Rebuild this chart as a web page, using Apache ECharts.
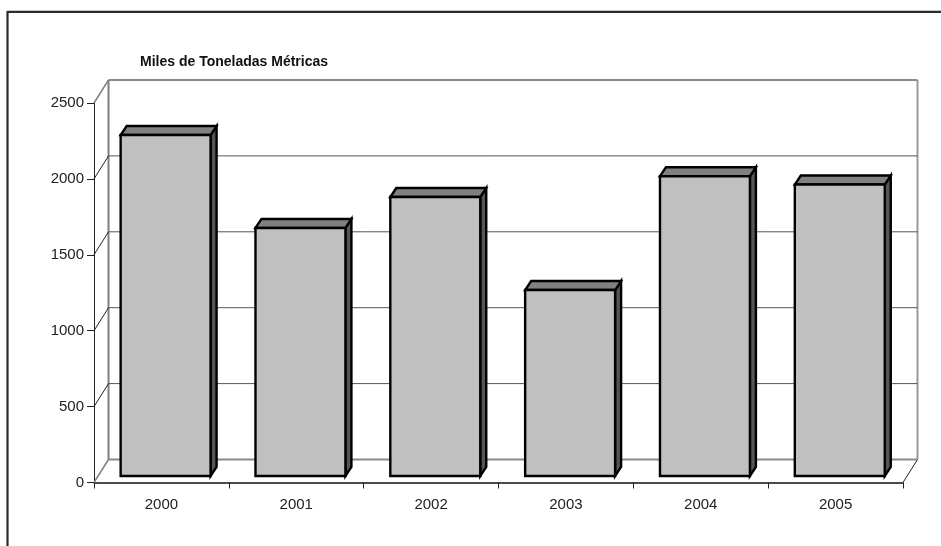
<!DOCTYPE html>
<html>
<head>
<meta charset="utf-8">
<style>html,body{margin:0;padding:0;background:#fff}#c{width:941px;height:546px}</style>
<script src="https://cdn.jsdelivr.net/npm/echarts@6/dist/echarts.min.js"></script>
</head>
<body>
<div id="c"></div>
<script>
const categories = ['2000','2001','2002','2003','2004','2005'];
const values = [2246, 1634, 1838, 1225, 1975, 1920];
const yTicks = [0, 500, 1000, 1500, 2000, 2500];
const chartTitle = 'Miles de Toneladas Métricas';

const chart = echarts.init(document.getElementById('c'), null, {renderer:'canvas'});
const DX = 14.5, DY = -23;      // wall depth
const BDX = 6, BDY = -9;        // bar depth
const BSHIFT = 4.2, BLIFT = -6.5; // bar position inside the floor

function wallItem(params, api) {
  const v = api.value(0);
  const a = api.coord([0, v]);
  const start = [94, a[1]];
  const end = [903, a[1]];
  const edge = v === 0 || v === 2500;
  const col = edge ? '#8a8a8a' : '#555';
  const w = edge ? 2 : 1;
  const kids = [
    {type:'line', shape:{x1:start[0]+DX, y1:start[1]+DY, x2:end[0]+DX, y2:end[1]+DY}, style:{stroke:col, lineWidth:w}},
    {type:'line', shape:{x1:start[0], y1:start[1], x2:start[0]+DX, y2:start[1]+DY}, style:{stroke:edge?'#808080':'#222', lineWidth:edge?1.5:1}}
  ];
  if (v === 0) {
    kids.push({type:'line', shape:{x1:end[0], y1:end[1], x2:end[0]+DX, y2:end[1]+DY}, style:{stroke:'#222', lineWidth:1}});
    const t = api.coord([0, 2500])[1];
    kids.push({type:'line', shape:{x1:start[0]+DX, y1:t+DY, x2:start[0]+DX, y2:start[1]+DY}, style:{stroke:'#808080', lineWidth:2}});
    kids.push({type:'line', shape:{x1:end[0]+DX, y1:t+DY, x2:end[0]+DX, y2:start[1]+DY}, style:{stroke:'#999', lineWidth:2}});
  }
  return {type:'group', children:kids};
}

function barItem(params, api) {
  const idx = api.value(0);
  const val = api.value(1);
  const top = api.coord([idx, val]);
  const base = api.coord([idx, 0]);
  const w = api.size([1, 0])[0] * 0.667;
  const x0 = top[0] - w/2 + BSHIFT, x1 = x0 + w;
  const yT = top[1] + BLIFT, yB = base[1] + BLIFT;
  const line = {stroke:'#000', lineWidth:2.4, lineJoin:'miter'};
  return {type:'group', children:[
    {type:'polygon', shape:{points:[[x1,yT],[x1+BDX,yT+BDY],[x1+BDX,yB+BDY],[x1,yB]]}, style:Object.assign({fill:'#555'}, line)},
    {type:'polygon', shape:{points:[[x0,yT],[x0+BDX,yT+BDY],[x1+BDX,yT+BDY],[x1,yT]]}, style:Object.assign({fill:'#808080'}, line)},
    {type:'rect', shape:{x:x0, y:yT, width:w, height:yB-yT}, style:Object.assign({fill:'#c0c0c0'}, line)}
  ]};
}

chart.setOption({
  animation:false,
  backgroundColor:'#fff',
  textStyle:{fontFamily:'"Liberation Sans", Arial, sans-serif'},
  title:{text:chartTitle, left:135, top:50, textStyle:{fontSize:14, fontWeight:'bold', color:'#111', fontFamily:'"Liberation Sans", Arial, sans-serif'}},
  grid:{left:94, right:38, top:103, height:379.5, containLabel:false},
  xAxis:{type:'category', data:categories, boundaryGap:true,
    axisLine:{lineStyle:{color:'#111', width:1.5}},
    axisTick:{show:true, length:6, inside:false, alignWithLabel:false, lineStyle:{color:'#222', width:1}},
    axisLabel:{fontSize:15, color:'#222', margin:15, interval:0},
    splitLine:{show:false}},
  yAxis:{type:'value', min:0, max:2500, interval:500,
    axisLine:{show:true, lineStyle:{color:'#222', width:1}},
    axisTick:{show:true, length:7, lineStyle:{color:'#222', width:1}},
    axisLabel:{fontSize:15, color:'#222', margin:10, formatter:(v)=>String(v)},
    splitLine:{show:false}},
  graphic:[
    {type:'line', silent:true, z:100, shape:{x1:7.5,y1:11.8,x2:941,y2:11.8}, style:{stroke:'#2b2b2b', lineWidth:2.2}},
    {type:'line', silent:true, z:100, shape:{x1:7.5,y1:11,x2:7.5,y2:546}, style:{stroke:'#2b2b2b', lineWidth:2.2}}
  ],
  series:[
    {type:'custom', name:'walls', coordinateSystem:'cartesian2d', renderItem:wallItem, data:yTicks.map(v=>[v]), encode:{y:0}, silent:true, z:1, clip:false},
    {type:'custom', name:'Miles de Toneladas Métricas', coordinateSystem:'cartesian2d', renderItem:barItem, data:values.map((v,i)=>[i,v]), encode:{x:0,y:1}, z:3, clip:false}
  ]
});
</script>
</body>
</html>
